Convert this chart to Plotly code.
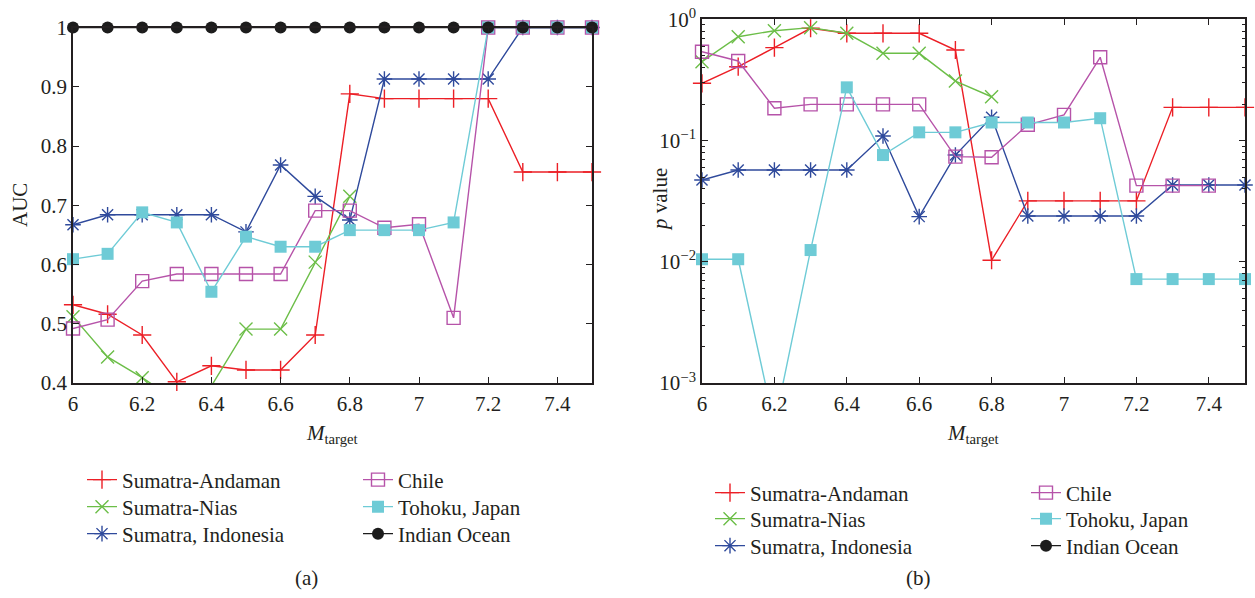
import plotly.graph_objects as go

# ---------------- data ----------------
M_target = [6.0, 6.1, 6.2, 6.3, 6.4, 6.5, 6.6, 6.7, 6.8, 6.9, 7.0, 7.1, 7.2, 7.3, 7.4, 7.5]

series_names = ["Sumatra-Andaman", "Sumatra-Nias", "Sumatra, Indonesia",
                "Chile", "Tohoku, Japan", "Indian Ocean"]

# AUC values (panel a)
auc_andaman = [0.532, 0.516, 0.481, 0.402, 0.429, 0.422, 0.422, 0.481, 0.888, 0.880, 0.880, 0.880, 0.880, 0.756, 0.756, 0.756]
auc_nias = [0.512, 0.444, 0.409, 0.37, 0.395, 0.491, 0.491, 0.604, 0.715, None, None, None, None, None, None, None]
auc_indonesia = [0.667, 0.684, 0.684, 0.684, 0.684, 0.655, 0.768, 0.715, 0.675, 0.913, 0.913, 0.913, 0.913, 1.0, 1.0, 1.0]
auc_chile = [0.492, 0.507, 0.572, 0.584, 0.584, 0.584, 0.584, 0.691, 0.691, 0.662, 0.668, 0.510, 1.0, 1.0, 1.0, 1.0]
auc_tohoku = [0.609, 0.618, 0.688, 0.671, 0.554, 0.647, 0.630, 0.630, 0.658, 0.658, 0.658, 0.671, 1.0, 1.0, 1.0, 1.0]
auc_indian = [1.0, 1.0, 1.0, 1.0, 1.0, 1.0, 1.0, 1.0, 1.0, 1.0, 1.0, 1.0, 1.0, 1.0, 1.0, 1.0]

# p values (panel b)
p_andaman = [0.297, 0.407, 0.585, 0.845, 0.768, 0.768, 0.768, 0.559, 0.0103, 0.0318, 0.0318, 0.0318, 0.0318, 0.188, 0.188, 0.188]
p_nias = [0.448, 0.72, 0.807, 0.855, 0.768, 0.525, 0.525, 0.310, 0.230, None, None, None, None, None, None, None]
p_indonesia = [0.0473, 0.0572, 0.0572, 0.0572, 0.0572, 0.109, 0.0236, 0.076, 0.156, 0.0239, 0.0239, 0.0239, 0.0239, 0.043, 0.043, 0.043]
p_chile = [0.541, 0.454, 0.185, 0.199, 0.199, 0.199, 0.199, 0.0737, 0.0728, 0.135, 0.163, 0.487, 0.0425, 0.0425, 0.0425, None]
p_tohoku = [0.0105, 0.0105, 0.00045, 0.0125, 0.275, 0.076, 0.117, 0.117, 0.141, 0.141, 0.141, 0.153, 0.0072, 0.0072, 0.0072, 0.0072]
p_indian = [None] * 16  # not visible within the plotted range

x_tickvals = [6.0, 6.2, 6.4, 6.6, 6.8, 7.0, 7.2, 7.4]
x_ticktext = ["6", "6.2", "6.4", "6.6", "6.8", "7", "7.2", "7.4"]
auc_tickvals = [0.4, 0.5, 0.6, 0.7, 0.8, 0.9, 1.0]
auc_ticktext = ["0.4", "0.5", "0.6", "0.7", "0.8", "0.9", "1"]
p_tickvals = [0.001, 0.01, 0.1, 1.0]
p_ticktext = ["10<sup>\u22123</sup>", "10<sup>\u22122</sup>", "10<sup>\u22121</sup>", "10<sup>0</sup>"]
p_minor = [m * 10.0 ** e for e in (-3, -2, -1) for m in range(2, 10)]

# ---------------- styles ----------------
colors = ["#ec1f26", "#6cbe48", "#2f4a9c", "#b653a9", "#6ecbd6", "#1c1c1c"]
symbols = ["cross-thin-open", "x-thin-open", "asterisk-open", "square-open", "square", "circle"]
msizes = [13, 13, 13, 13, 12, 12]

FONT = "Liberation Serif, Times New Roman, serif"
TXT = "#231f20"
FS = 21

auc_data = [auc_andaman, auc_nias, auc_indonesia, auc_chile, auc_tohoku, auc_indian]
p_data = [p_andaman, p_nias, p_indonesia, p_chile, p_tohoku, p_indian]

W, H = 1255, 598


def px_x(p):
    return p / W


def px_y(p):
    return 1 - p / H


# one single-entry legend per row so rows sit where the reference puts them
# (left text x, row centre y) for panel a and panel b
leg_pos_a = [(122, 480), (122, 507), (122, 534), (398, 480), (398, 507), (398, 534)]
leg_pos_b = [(750, 493), (750, 519), (750, 546), (1066, 493), (1066, 519), (1066, 546)]

fig = go.Figure()


def marker_for(i):
    open_sym = symbols[i].endswith("open")
    return dict(
        symbol=symbols[i], size=msizes[i],
        color=colors[i],
        line=dict(color=colors[i], width=1.4 if open_sym else 0),
    )


def leg_id(k):
    return "legend" if k == 0 else "legend%d" % (k + 1)


for i, name in enumerate(series_names):
    fig.add_trace(go.Scatter(
        x=M_target, y=auc_data[i], name=name, mode="lines+markers",
        line=dict(color=colors[i], width=1.4), marker=marker_for(i),
        xaxis="x", yaxis="y", legend=leg_id(i), cliponaxis=False,
        connectgaps=False,
    ))
for i, name in enumerate(series_names):
    fig.add_trace(go.Scatter(
        x=M_target, y=p_data[i], name=name, mode="lines+markers",
        line=dict(color=colors[i], width=1.4), marker=marker_for(i),
        xaxis="x2", yaxis="y2", legend=leg_id(6 + i), cliponaxis=False,
        connectgaps=False,
    ))

axis_common = dict(
    showgrid=False, zeroline=False, showline=True, linecolor="#231f20", linewidth=1.6,
    mirror="ticks", ticks="inside", ticklen=6, tickwidth=1.2, tickcolor="#231f20",
    tickfont=dict(family=FONT, size=FS, color=TXT), automargin=False,
)

fig.update_layout(
    width=W, height=H,
    margin=dict(l=0, r=0, t=0, b=0, autoexpand=False),
    paper_bgcolor="white", plot_bgcolor="white",
    font=dict(family=FONT, size=FS, color=TXT),
    xaxis=dict(domain=[px_x(73), px_x(592)], range=[6, 7.5], anchor="y",
               tickvals=x_tickvals, ticktext=x_ticktext, ticklabelstandoff=1, **axis_common),
    yaxis=dict(domain=[px_y(383), px_y(27.5)], range=[0.4, 1.0], anchor="x",
               tickvals=auc_tickvals, ticktext=auc_ticktext, **axis_common),
    xaxis2=dict(domain=[px_x(702), px_x(1245)], range=[6, 7.5], anchor="y2",
                tickvals=x_tickvals, ticktext=x_ticktext, ticklabelstandoff=1, **axis_common),
    yaxis2=dict(domain=[px_y(383), px_y(19.4)], type="log", range=[-3, 0], anchor="x2",
                tickvals=p_tickvals, ticktext=p_ticktext,
                minor=dict(tickvals=p_minor, ticks="inside", ticklen=3, tickwidth=1,
                           tickcolor="#231f20"),
                **axis_common),
    showlegend=True,
)

leg_common = dict(bgcolor="rgba(0,0,0,0)", borderwidth=0, xanchor="left", yanchor="middle",
                  font=dict(family=FONT, size=FS, color=TXT), orientation="v")
for k, (tx, ty) in enumerate(leg_pos_a + leg_pos_b):
    fig.update_layout({leg_id(k): dict(x=px_x(tx - 40), y=px_y(ty), **leg_common)})

ann_font = dict(family=FONT, size=FS, color=TXT)


def label(text, x, y, angle=0):
    fig.add_annotation(text=text, x=px_x(x), y=px_y(y), xref="paper", yref="paper",
                       xanchor="center", yanchor="middle", textangle=angle,
                       showarrow=False, font=ann_font)


label("AUC", 20, 205, -90)
label("<i>p</i> value", 660, 200, -90)
label("<i>M</i><sub>target</sub>", 332, 434)
label("<i>M</i><sub>target</sub>", 973, 434)
label("(a)", 306, 578)
label("(b)", 918, 578)

fig.write_html("out.html")
